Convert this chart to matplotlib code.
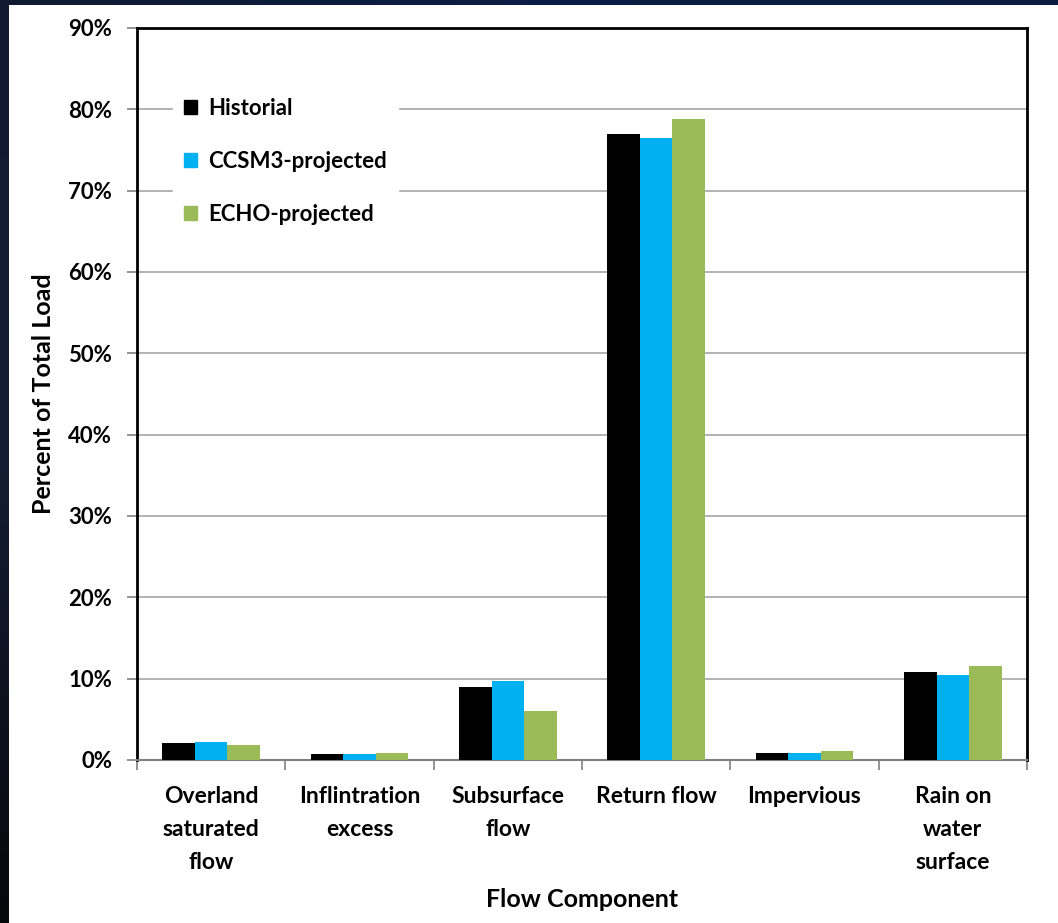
import numpy as np
import matplotlib
matplotlib.use("Agg")
import matplotlib.pyplot as plt
from matplotlib.patches import Patch

plt.rcParams["font.family"] = ["Lato", "DejaVu Sans"]
plt.rcParams["font.weight"] = "bold"
plt.rcParams["axes.labelweight"] = "bold"

# Share of total load by flow component, per scenario (percent)
components = ["Overland\nsaturated\nflow", "Inflintration\nexcess", "Subsurface\nflow",
              "Return flow", "Impervious", "Rain on\nwater\nsurface"]
series_names = ["Historial", "CCSM3-projected", "ECHO-projected"]
historial = [2.05, 0.7, 9.0, 77.0, 0.8, 10.8]
ccsm3 = [2.2, 0.7, 9.7, 76.5, 0.8, 10.4]
echo = [1.9, 0.8, 6.05, 78.8, 1.05, 11.6]
y_ticks = [0, 10, 20, 30, 40, 50, 60, 70, 80, 90]

COLORS = ["#000000", "#00b0f0", "#9bbb59"]
GRID = "#a6a6a6"

W, H = 1058, 923
fig = plt.figure(figsize=(W / 100, H / 100), dpi=100)
fig.patch.set_facecolor("white")

# dark slide frame along the top and left edges
top = fig.add_axes([0, 1 - 5 / H, 1, 5 / H])
top.imshow(np.linspace(0, 1, 200)[None, :], cmap=matplotlib.colors.LinearSegmentedColormap.from_list(
    "t", ["#101a30", "#0c1d45", "#0b1c40"]), aspect="auto")
top.axis("off")
left = fig.add_axes([0, 0, 9 / W, 1])
left.imshow(np.linspace(0, 1, 200)[:, None], cmap=matplotlib.colors.LinearSegmentedColormap.from_list(
    "l", ["#101a30", "#141d33", "#07080c"]), aspect="auto")
left.axis("off")

ax = fig.add_axes([137 / W, (H - 760) / H, (1027 - 137) / W, (760 - 28) / H])
x = np.arange(len(components))
width = 0.22
for i, (vals, name) in enumerate(zip([historial, ccsm3, echo], series_names)):
    ax.bar(x + (i - 1) * width, vals, width, color=COLORS[i], label=name, zorder=3)

ax.set_xlim(-0.5, len(components) - 0.5)
ax.set_ylim(0, 90)
ax.set_yticks(y_ticks)
ax.set_yticklabels([f"{v}%" for v in y_ticks])
ax.yaxis.grid(True, color=GRID, linewidth=1.2, zorder=0)

ax.set_xticks(x)
ax.set_xticklabels(components, linespacing=1.7, va="top")
ax.set_xticks(np.arange(len(components) + 1) - 0.5, minor=True)
ax.tick_params(axis="x", which="major", length=0, pad=19, labelsize=16.5)
ax.tick_params(axis="x", which="minor", length=7, width=1.2, color="#808080")
ax.tick_params(axis="y", length=7, width=1.2, color="#808080", pad=11, labelsize=16)

for side in ["top", "right", "left"]:
    ax.spines[side].set_color("black")
    ax.spines[side].set_linewidth(2)
ax.spines["bottom"].set_color("#808080")
ax.spines["bottom"].set_linewidth(1.5)

ax.set_ylabel("Percent of Total Load", fontsize=18, labelpad=9)
ax.set_xlabel("Flow Component", fontsize=18, labelpad=11)

handles = [Patch(color=c, label=n) for c, n in zip(COLORS, series_names)]
leg = ax.legend(handles=handles, loc="upper left", bbox_to_anchor=(0.028, 0.935),
                fontsize=16, frameon=True, fancybox=False, framealpha=1,
                handlelength=0.6, handleheight=0.6, handletextpad=0.5,
                labelspacing=1.45, borderpad=0.5)
leg.get_frame().set_edgecolor("white")
leg.get_frame().set_facecolor("white")
leg.set_zorder(5)

fig.savefig("out.png", dpi=100, facecolor=fig.get_facecolor())
